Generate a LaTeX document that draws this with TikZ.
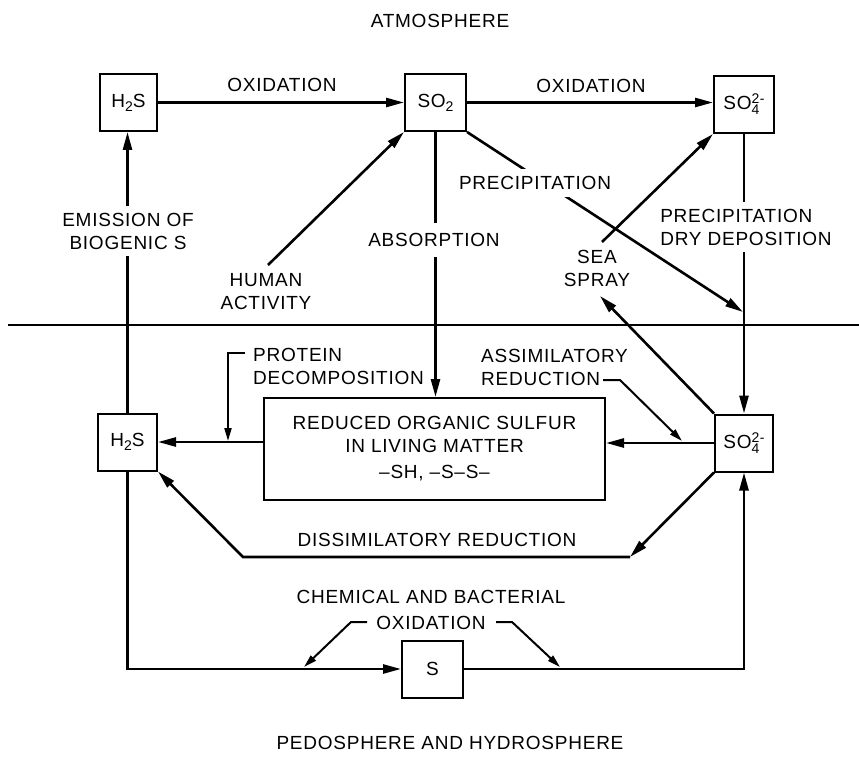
\documentclass[tikz,border=0pt]{standalone}
\usepackage{fontspec}
\setmainfont{Liberation Sans}[LetterSpace=4]
\usetikzlibrary{arrows.meta}

% small figures for chemical formulas
\newcommand{\chemfig}[1]{{\fontsize{14}{14}\selectfont #1}}
\newcommand{\hsulf}{H\raisebox{-4pt}{\chemfig{2}}S}
\newcommand{\sdiox}{SO\raisebox{-4pt}{\chemfig{2}}}
\newcommand{\sulfate}{SO\rlap{\raisebox{-5pt}{\chemfig{4}}}\raisebox{6pt}{\chemfig{2-}}}

\begin{document}
\begin{tikzpicture}[x=1pt,y=-1pt,
  every node/.style={font=\fontsize{19}{23}\selectfont},
  speciesbox/.style={draw,line width=2pt,minimum height=57pt,inner sep=0pt},
  flowarrow/.style={line width=2.6pt,-{Triangle[length=18pt,width=9pt]}},
  flowline/.style={line width=2.6pt},
  leaderarrow/.style={line width=2pt,-{Triangle[length=13pt,width=7pt]}},
  lbl/.style={align=center,inner sep=0pt},
  gaplbl/.style={align=center,fill=white,inner xsep=2pt,inner ysep=7pt},
]
\useasboundingbox (0,0) rectangle (859,762);

% compartments
\node[lbl] (atmo) at (440,21) {ATMOSPHERE};
\node[lbl] (pedo) at (450,743) {PEDOSPHERE AND HYDROSPHERE};
\draw[flowline] (8,325) -- (859,325);

% sulfur species
\node[speciesbox,minimum width=57pt] (h2sA) at (128.5,102.5) {\hsulf};
\node[speciesbox,minimum width=61pt] (so2) at (435.5,102.5) {\sdiox};
\node[speciesbox,minimum width=60pt] (so4A) at (744,104.5) {\sulfate};
\node[speciesbox,minimum width=59pt] (h2sB) at (127.5,442) {\hsulf};
\node[speciesbox,minimum width=58pt] (so4B) at (744,443) {\sulfate};
\node[speciesbox,minimum width=61pt] (s) at (432.5,669) {S};
\node[draw,line width=2pt,minimum width=341pt,minimum height=102pt,align=center,inner sep=0pt]
  (org) at (434.5,449) {REDUCED ORGANIC SULFUR\\IN LIVING MATTER\\[3pt]--SH, --S--S--};

% free ends of connectors
\coordinate (humanend) at (268,265);
\coordinate (precipend) at (743,312);
\coordinate (sprayend) at (602,242);
\coordinate (spraytip) at (600,296);
\coordinate (dr) at (630,557);
\coordinate (dl) at (243,557);
\coordinate (protA) at (245,353);
\coordinate (protB) at (228,353);
\coordinate (protC) at (228,441);
\coordinate (assA) at (603,380);
\coordinate (assB) at (620,380);
\coordinate (assC) at (682,441);
\coordinate (oxlA) at (367,622);
\coordinate (oxlB) at (351,622);
\coordinate (oxlC) at (304,667);
\coordinate (oxrA) at (496,622);
\coordinate (oxrB) at (512,622);
\coordinate (oxrC) at (560,667);

% atmospheric fluxes
\draw[flowarrow] (h2sA.east) -- (so2.west);
\draw[flowarrow] (so2.east) -- (so2.east -| so4A.west);
\draw[flowarrow] (h2sB.north) -- (h2sB.north |- h2sA.south);
\draw[flowarrow] (humanend) -- (so2.south west);
\draw[flowarrow] (so2.south) -- (so2.south |- org.north);
\draw[flowarrow] (so2.south east) -- (precipend);
\draw[flowarrow] (sprayend) -- (so4A.south west);
\draw[flowarrow] (so4A.south) -- (so4B.north);
\draw[flowarrow] (so4B.north west) -- (spraytip);

% soil and water fluxes
\draw[flowarrow] (so4B.west) -- (so4B.west -| org.east);
\draw[flowarrow] (h2sB.east -| org.west) -- (h2sB.east);
\draw[flowarrow] (so4B.south west) -- (dr);
\draw[flowarrow] (dr) -- (dl) -- (h2sB.south east);
\draw[flowarrow] (h2sB.south) -- (h2sB.south |- s.west) -- (s.west);
\draw[flowarrow] (s.east) -- (s.east -| so4B.south) -- (so4B.south);

% leaders
\draw[leaderarrow] (protA) -- (protB) -- (protC);
\draw[leaderarrow] (assA) -- (assB) -- (assC);
\draw[leaderarrow] (oxlA) -- (oxlB) -- (oxlC);
\draw[leaderarrow] (oxrA) -- (oxrB) -- (oxrC);

% process labels
\node[lbl] (oxA) at (282,85) {OXIDATION};
\node[lbl] (oxB) at (591,86) {OXIDATION};
\node[gaplbl] (emis) at (128,231) {EMISSION OF\\BIOGENIC S};
\node[gaplbl,inner ysep=10pt] (absorb) at (434,240) {ABSORPTION};
\node[lbl] (human) at (266,292) {HUMAN\\ACTIVITY};
\node[gaplbl] (precipA) at (535,183) {PRECIPITATION};
\node[gaplbl,align=left] (precipB) at (746,227) {PRECIPITATION\\DRY DEPOSITION};
\node[lbl] (spray) at (597,268) {SEA\\SPRAY};
\node[lbl,align=left,anchor=west] (protein) at (253,366) {PROTEIN\\DECOMPOSITION};
\node[lbl,align=left,anchor=west] (assim) at (481,367.5) {ASSIMILATORY\\REDUCTION};
\node[lbl] (dissim) at (437,540) {DISSIMILATORY REDUCTION};
\node[lbl] (chem) at (431,609.5) {CHEMICAL AND BACTERIAL\\[3pt]OXIDATION};
\end{tikzpicture}
\end{document}
